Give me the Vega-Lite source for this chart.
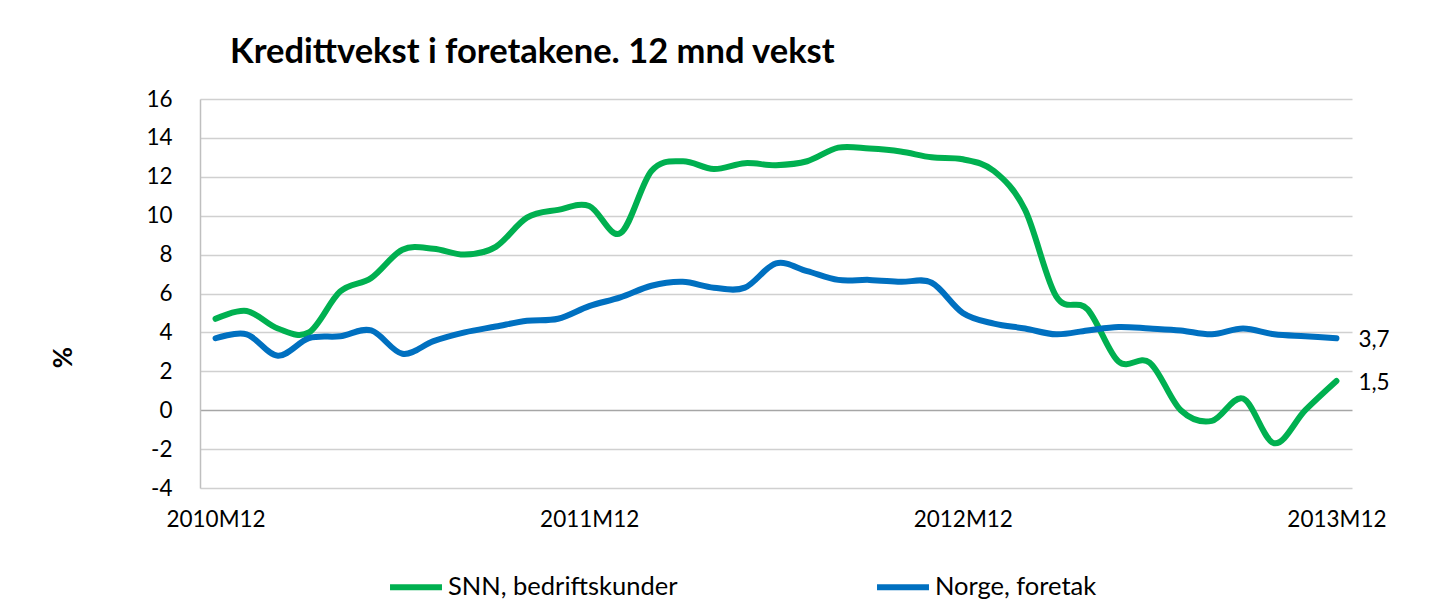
{
  "$schema": "https://vega.github.io/schema/vega-lite/v6.json",
  "width": 1152,
  "height": 389,
  "autosize": "none",
  "padding": {"left": 200, "top": 99, "right": 101, "bottom": 121},
  "background": "white",
  "config": {
    "font": "Lato",
    "view": {"stroke": null},
    "locale": {"number": {"decimal": ",", "thousands": " ", "grouping": [3], "currency": ["", " kr"], "minus": "-"}},
    "axis": {"labelFont": "Lato", "labelColor": "#000000", "titleFont": "Lato"}
  },
  "title": {
    "text": "Kredittvekst i foretakene. 12 mnd vekst",
    "anchor": "start",
    "frame": "group",
    "dx": 30,
    "dy": 31,
    "fontSize": 34.5,
    "fontWeight": "bold",
    "font": "Lato",
    "color": "#000000",
    "baseline": "alphabetic",
    "offset": 22
  },
  "data": {
    "values": [
      {"m": "2010M12", "s": "SNN, bedriftskunder", "v": 4.7},
      {"m": "2011M1", "s": "SNN, bedriftskunder", "v": 5.1},
      {"m": "2011M2", "s": "SNN, bedriftskunder", "v": 4.2},
      {"m": "2011M3", "s": "SNN, bedriftskunder", "v": 4.0},
      {"m": "2011M4", "s": "SNN, bedriftskunder", "v": 6.1},
      {"m": "2011M5", "s": "SNN, bedriftskunder", "v": 6.8},
      {"m": "2011M6", "s": "SNN, bedriftskunder", "v": 8.25},
      {"m": "2011M7", "s": "SNN, bedriftskunder", "v": 8.3},
      {"m": "2011M8", "s": "SNN, bedriftskunder", "v": 8.0},
      {"m": "2011M9", "s": "SNN, bedriftskunder", "v": 8.4},
      {"m": "2011M10", "s": "SNN, bedriftskunder", "v": 9.9},
      {"m": "2011M11", "s": "SNN, bedriftskunder", "v": 10.3},
      {"m": "2011M12", "s": "SNN, bedriftskunder", "v": 10.5},
      {"m": "2012M1", "s": "SNN, bedriftskunder", "v": 9.1},
      {"m": "2012M2", "s": "SNN, bedriftskunder", "v": 12.3},
      {"m": "2012M3", "s": "SNN, bedriftskunder", "v": 12.8},
      {"m": "2012M4", "s": "SNN, bedriftskunder", "v": 12.4},
      {"m": "2012M5", "s": "SNN, bedriftskunder", "v": 12.7},
      {"m": "2012M6", "s": "SNN, bedriftskunder", "v": 12.6},
      {"m": "2012M7", "s": "SNN, bedriftskunder", "v": 12.8},
      {"m": "2012M8", "s": "SNN, bedriftskunder", "v": 13.5},
      {"m": "2012M9", "s": "SNN, bedriftskunder", "v": 13.45},
      {"m": "2012M10", "s": "SNN, bedriftskunder", "v": 13.3},
      {"m": "2012M11", "s": "SNN, bedriftskunder", "v": 13.0},
      {"m": "2012M12", "s": "SNN, bedriftskunder", "v": 12.9},
      {"m": "2013M1", "s": "SNN, bedriftskunder", "v": 12.3},
      {"m": "2013M2", "s": "SNN, bedriftskunder", "v": 10.3},
      {"m": "2013M3", "s": "SNN, bedriftskunder", "v": 5.85},
      {"m": "2013M4", "s": "SNN, bedriftskunder", "v": 5.2},
      {"m": "2013M5", "s": "SNN, bedriftskunder", "v": 2.5},
      {"m": "2013M6", "s": "SNN, bedriftskunder", "v": 2.45},
      {"m": "2013M7", "s": "SNN, bedriftskunder", "v": 0.0},
      {"m": "2013M8", "s": "SNN, bedriftskunder", "v": -0.55},
      {"m": "2013M9", "s": "SNN, bedriftskunder", "v": 0.6},
      {"m": "2013M10", "s": "SNN, bedriftskunder", "v": -1.7},
      {"m": "2013M11", "s": "SNN, bedriftskunder", "v": 0.0},
      {"m": "2013M12", "s": "SNN, bedriftskunder", "v": 1.5},
      {"m": "2010M12", "s": "Norge, foretak", "v": 3.7},
      {"m": "2011M1", "s": "Norge, foretak", "v": 3.9},
      {"m": "2011M2", "s": "Norge, foretak", "v": 2.8},
      {"m": "2011M3", "s": "Norge, foretak", "v": 3.7},
      {"m": "2011M4", "s": "Norge, foretak", "v": 3.8},
      {"m": "2011M5", "s": "Norge, foretak", "v": 4.1},
      {"m": "2011M6", "s": "Norge, foretak", "v": 2.9},
      {"m": "2011M7", "s": "Norge, foretak", "v": 3.55},
      {"m": "2011M8", "s": "Norge, foretak", "v": 4.0},
      {"m": "2011M9", "s": "Norge, foretak", "v": 4.3},
      {"m": "2011M10", "s": "Norge, foretak", "v": 4.6},
      {"m": "2011M11", "s": "Norge, foretak", "v": 4.7},
      {"m": "2011M12", "s": "Norge, foretak", "v": 5.35},
      {"m": "2012M1", "s": "Norge, foretak", "v": 5.8},
      {"m": "2012M2", "s": "Norge, foretak", "v": 6.4},
      {"m": "2012M3", "s": "Norge, foretak", "v": 6.6},
      {"m": "2012M4", "s": "Norge, foretak", "v": 6.3},
      {"m": "2012M5", "s": "Norge, foretak", "v": 6.3},
      {"m": "2012M6", "s": "Norge, foretak", "v": 7.55},
      {"m": "2012M7", "s": "Norge, foretak", "v": 7.15},
      {"m": "2012M8", "s": "Norge, foretak", "v": 6.7},
      {"m": "2012M9", "s": "Norge, foretak", "v": 6.7},
      {"m": "2012M10", "s": "Norge, foretak", "v": 6.6},
      {"m": "2012M11", "s": "Norge, foretak", "v": 6.55},
      {"m": "2012M12", "s": "Norge, foretak", "v": 5.0},
      {"m": "2013M1", "s": "Norge, foretak", "v": 4.45},
      {"m": "2013M2", "s": "Norge, foretak", "v": 4.2},
      {"m": "2013M3", "s": "Norge, foretak", "v": 3.9},
      {"m": "2013M4", "s": "Norge, foretak", "v": 4.1},
      {"m": "2013M5", "s": "Norge, foretak", "v": 4.28},
      {"m": "2013M6", "s": "Norge, foretak", "v": 4.2},
      {"m": "2013M7", "s": "Norge, foretak", "v": 4.1},
      {"m": "2013M8", "s": "Norge, foretak", "v": 3.9},
      {"m": "2013M9", "s": "Norge, foretak", "v": 4.2},
      {"m": "2013M10", "s": "Norge, foretak", "v": 3.9},
      {"m": "2013M11", "s": "Norge, foretak", "v": 3.8},
      {"m": "2013M12", "s": "Norge, foretak", "v": 3.7}
    ]
  },
  "encoding": {
    "x": {
      "field": "m", "type": "ordinal", "sort": null,
      "scale": {"type": "point", "padding": 0.5},
      "axis": {
        "title": null,
        "values": ["2010M12", "2011M12", "2012M12", "2013M12"],
        "labelAngle": 0,
        "labelFontSize": 22.5,
        "labelPadding": 20,
        "labelOverlap": false,
        "ticks": false,
        "tickSize": 0,
        "domain": false,
        "grid": false
      }
    },
    "y": {
      "field": "v", "type": "quantitative",
      "scale": {"domain": [-4, 16], "nice": false, "zero": false},
      "axis": {
        "title": "%",
        "values": [-4, -2, 0, 2, 4, 6, 8, 10, 12, 14, 16],
        "tickCount": 12,
        "labelOverlap": false,
        "labelFontSize": 22.5,
        "labelPadding": 28,
        "ticks": false,
        "tickSize": 0,
        "domain": true,
        "domainColor": "#bfbfbf",
        "domainWidth": 1.5,
        "grid": true,
        "gridColor": {"condition": {"test": "datum.value === 0", "value": "#a6a6a6"}, "value": "#d0d0d0"},
        "gridWidth": 1.5,
        "titleFontSize": 26,
        "titleFontWeight": "bold",
        "titleColor": "#000000",
        "titleAngle": 270,
        "titleAlign": "center",
        "titleBaseline": "middle",
        "titleX": -137,
        "titleY": 258
      }
    }
  },
  "layer": [
    {
      "mark": {"type": "line", "strokeWidth": 6, "interpolate": "cardinal", "strokeCap": "round"},
      "encoding": {
        "color": {
          "field": "s", "type": "nominal",
          "scale": {"domain": ["SNN, bedriftskunder", "Norge, foretak"], "range": ["#00B050", "#0070C0"]},
          "legend": {
            "title": null,
            "orient": "none",
            "legendX": 187,
            "legendY": 459,
            "direction": "horizontal",
            "columns": 2,
            "columnPadding": 187,
            "symbolType": "stroke",
            "symbolSize": 2700,
            "symbolStrokeWidth": 6,
            "labelFontSize": 25.5,
            "labelFont": "Lato",
            "labelColor": "#000000",
            "labelOffset": 3,
            "labelLimit": 0
          }
        }
      }
    },
    {
      "transform": [{"filter": "datum.m == '2013M12'"}],
      "mark": {"type": "text", "align": "left", "baseline": "middle", "dx": 22, "dy": 2, "fontSize": 22.5, "font": "Lato", "color": "#000000"},
      "encoding": {
        "text": {"field": "v", "type": "quantitative", "format": ".1f"}
      }
    }
  ]
}
